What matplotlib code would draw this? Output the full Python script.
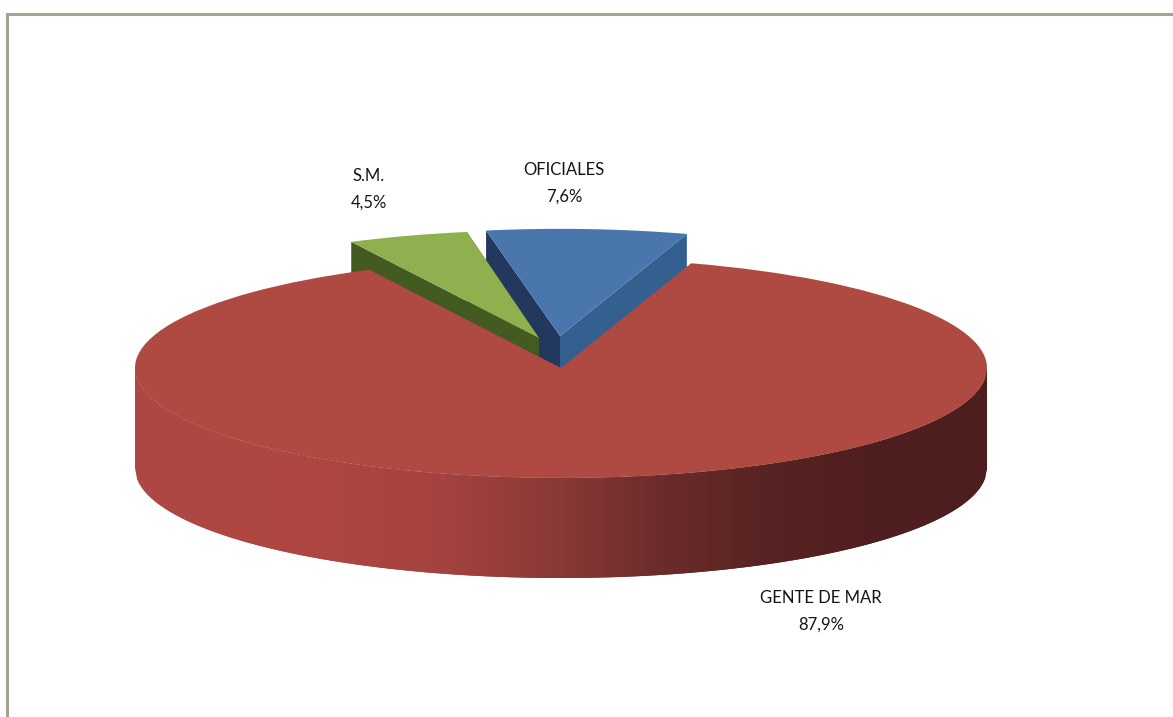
import numpy as np
import matplotlib
matplotlib.use("Agg")
import matplotlib.pyplot as plt
from matplotlib.collections import PolyCollection
from matplotlib.colors import LinearSegmentedColormap
from matplotlib.patches import Polygon

categories = ["OFICIALES", "S.M.", "GENTE DE MAR"]
value_text = ["7,6%", "4,5%", "87,9%"]
values = [7.6, 4.5, 87.9]

W, H = 1173, 717
CX, CY, A, B, DEPTH = 561, 368, 426, 110, 100
TOP = ["#4A76AE", "#8FB04E", "#AF4A43"]
WALL_L = ["#22385F", "#435A20", "#AF4A43"]
WALL_R = ["#34608F", "#435A20", "#AF4A43"]
OFFSET = [(-1, -32), (-22, -30), (0, 0)]
RADII = [415, 417, 426]
# small perspective corrections of the slice edges (degrees)
EDGE_FIX = [(0.0, 0.7), (0.4, 1.0), (1.0, 0.0)]
LABEL_XY = [(564, 183.5), (369, 189), (821, 611.5)]
FONT = "Lato"


def xd(px):
    return (px - CX) / A


def yd(py):
    return (CY - py) / B


fig = plt.figure(figsize=(W / 100, H / 100), dpi=100)
ax = fig.add_axes([0, 0, 1, 1])
wedges, _ = ax.pie(values, colors=TOP, startangle=72.2, counterclock=True,
                   radius=1, center=(0, 0), wedgeprops=dict(linewidth=0))
ax.set_aspect("auto")
ax.set_xlim(xd(0), xd(W))
ax.set_ylim(yd(H), yd(0))
ax.axis("off")

depth = DEPTH / B
for i, w in enumerate(wedges):
    w.set_center((OFFSET[i][0] / A, -OFFSET[i][1] / B))
    w.set_radius(RADII[i] / A)
    w.set_theta1(w.theta1 + EDGE_FIX[i][0])
    w.set_theta2(w.theta2 + EDGE_FIX[i][1])

# radial walls of the two pulled-out slices
for z, i in zip((1.0, 1.5), (0, 1)):
    w = wedges[i]
    cx, cy = w.center
    r = w.r
    for th, col in ((w.theta1, WALL_R[i]), (w.theta2, WALL_L[i])):
        t = np.deg2rad(th)
        ex, ey = cx + r * np.cos(t), cy + r * np.sin(t)
        ax.add_patch(Polygon([(cx, cy), (ex, ey), (ex, ey - depth), (cx, cy - depth)],
                             closed=True, fc=col, ec="none", zorder=z))
    w.set_zorder(z + 0.2)

# front wall of the large slice, shaded from left to right
shade = LinearSegmentedColormap.from_list(
    "wall",
    [(0.00, "#AE4743"), (0.22, "#AE4541"), (0.36, "#A4423F"), (0.50, "#883836"),
     (0.62, "#6A2B2A"), (0.74, "#572322"), (0.86, "#4F1E1E"), (1.00, "#4E1E1E")])
xs = np.linspace(-1, 1, 427)
ys = -np.sqrt(np.clip(1 - xs ** 2, 0, 1))
polys, cols = [], []
for k in range(len(xs) - 1):
    # each strip runs on under the next one, so no seams show
    n = min(k + 2, len(xs) - 1)
    xr = xs[k:n + 1]
    yr = ys[k:n + 1]
    polys.append(list(zip(xr, yr)) + list(zip(xr[::-1], yr[::-1] - depth)))
    cols.append(shade((0.5 * (xs[k] + xs[k + 1]) + 1) / 2))
ax.add_collection(PolyCollection(polys, facecolors=cols, edgecolors="none",
                                 linewidths=0, zorder=3))
wedges[2].set_zorder(4)

for name, val, (lx, ly) in zip(categories, value_text, LABEL_XY):
    ax.text(xd(lx), yd(ly), f"{name}\n{val}", ha="center", va="center",
            fontsize=12, family=FONT, color="#151515", linespacing=1.81, zorder=6)

# chart-area frame
frame = "#A8A290"
ax.plot([xd(6.5), xd(6.5), xd(1173)], [yd(717), yd(14.5), yd(14.5)], color=frame, lw=2.2,
        solid_joinstyle="miter", solid_capstyle="butt", zorder=7, clip_on=False)

fig.savefig("out.png", dpi=100, facecolor="white")
